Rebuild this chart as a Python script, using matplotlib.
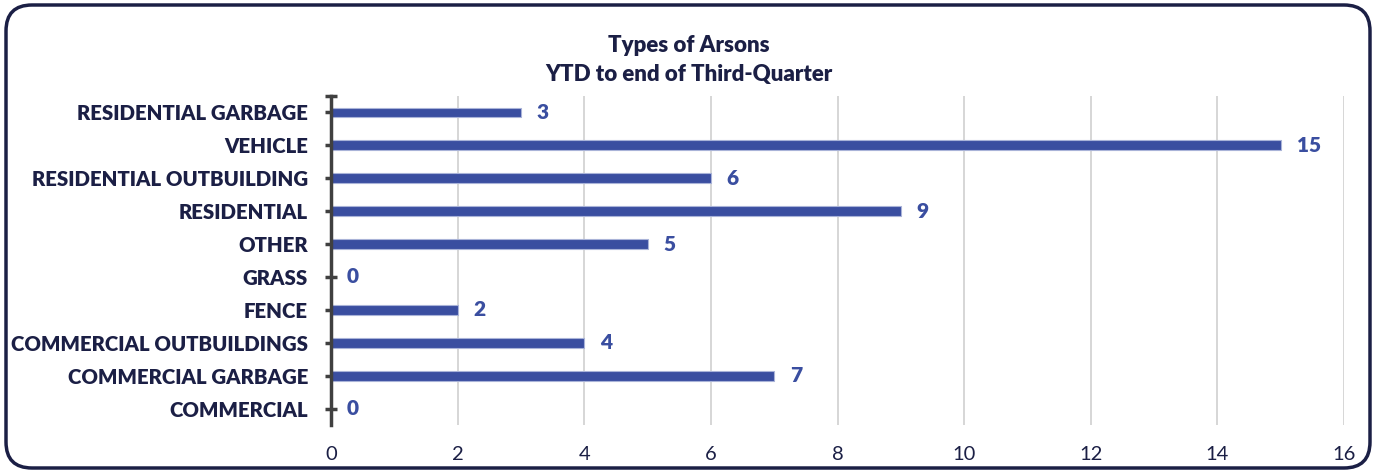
import matplotlib.pyplot as plt
from matplotlib.patches import FancyBboxPatch
from matplotlib.transforms import IdentityTransform

plt.rcParams['font.family'] = ['Lato', 'DejaVu Sans']

# data, top to bottom as in the chart
categories = ['RESIDENTIAL GARBAGE', 'VEHICLE', 'RESIDENTIAL OUTBUILDING',
              'RESIDENTIAL', 'OTHER', 'GRASS', 'FENCE',
              'COMMERCIAL OUTBUILDINGS', 'COMMERCIAL GARBAGE', 'COMMERCIAL']
counts = [3, 15, 6, 9, 5, 0, 2, 4, 7, 0]
xticks = [0, 2, 4, 6, 8, 10, 12, 14, 16]

navy = '#1b1f45'
blue = '#3a4ea0'

fig = plt.figure(figsize=(13.77, 4.73), dpi=100)

# rounded frame around everything (pixel coords)
frame = FancyBboxPatch((6, 5), 1364, 463,
                       boxstyle='round,pad=0,rounding_size=26',
                       transform=IdentityTransform(), fill=False,
                       edgecolor=navy, linewidth=2.5)
fig.patches.append(frame)

ax = fig.add_axes([331/1377, 1 - 425/473, 1013/1377, 329/473])

y = list(range(len(categories)))
ax.barh(y, counts, height=0.3, color=blue, edgecolor='#a9b3d8', linewidth=0.8, zorder=3)
for yi, v in zip(y, counts):
    ax.text(v + 0.25, yi, str(v), va='center', ha='left', color=blue,
            fontsize=15, fontweight='heavy')

ax.set_ylim(len(categories) - 0.5, -0.5)
ax.set_xlim(0, 16)
ax.set_yticks(y)
ax.set_yticklabels(categories, fontsize=14.7, fontweight='heavy', color=navy)
ax.set_yticks([-0.5], minor=True)
ax.set_xticks(xticks)
ax.set_xticklabels([str(t) for t in xticks], fontsize=14.5, color=navy)

ax.grid(axis='x', color='#d0d0d0', linewidth=1.2, zorder=0)
for s in ['top', 'right', 'bottom']:
    ax.spines[s].set_visible(False)
ax.spines['left'].set_color('#404040')
ax.spines['left'].set_linewidth(2.5)
ax.spines['left'].set_zorder(4)
ax.tick_params(axis='y', which='both', direction='inout', length=9, width=2.5,
               color='#404040', pad=12)
ax.tick_params(axis='x', length=0, pad=15)

fig.text(0.5, 1 - 45/473, 'Types of Arsons', ha='center', va='center',
         fontsize=16, fontweight='heavy', color=navy)
fig.text(0.5, 1 - 75/473, 'YTD to end of Third-Quarter', ha='center', va='center',
         fontsize=16, fontweight='heavy', color=navy)

fig.savefig('out.png', dpi=100)
